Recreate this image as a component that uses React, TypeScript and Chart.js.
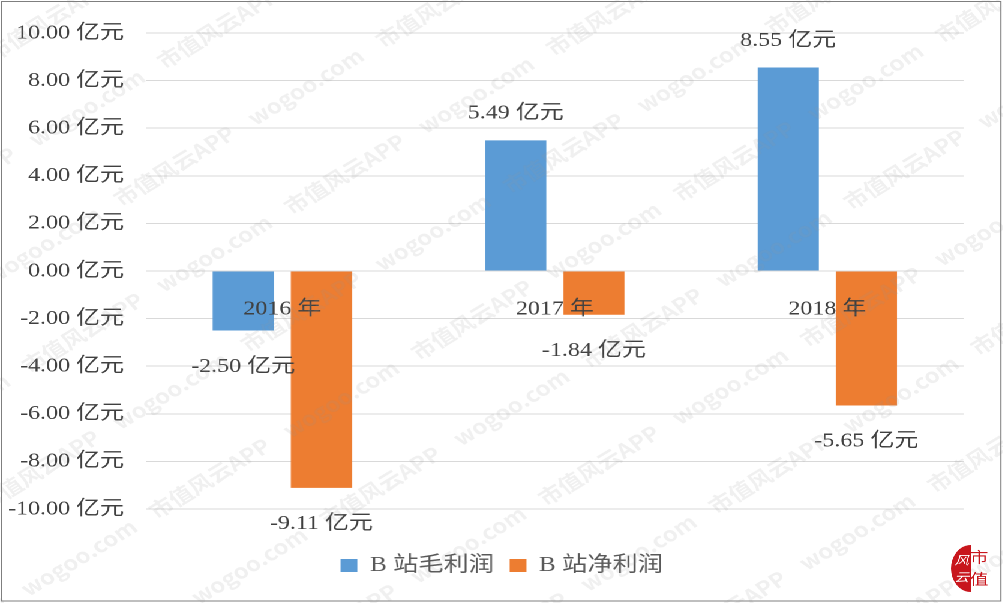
import React, { useEffect, useRef } from 'react';
import { Chart, registerables } from 'chart.js';

Chart.register(...registerables);

const categories = ['2016 年', '2017 年', '2018 年'];
const grossProfit = [-2.5, 5.49, 8.55];
const netProfit = [-9.11, -1.84, -5.65];
const seriesNames = ['B 站毛利润', 'B 站净利润'];
const seriesColors = ['#5B9BD5', '#ED7D31'];
const yMin = -10;
const yMax = 10;
const yStep = 2;
const unit = ' 亿元';
const watermarkText = '市值风云APP    wogoo.com    ';

// the reference image is horizontally stretched; reproduce with a CSS scaleX
const STRETCH = 1.2;
const PAGE_W = 1003;
const PAGE_H = 603;
const CHART_W = PAGE_W / STRETCH;

const FONT = "'Liberation Serif', 'Times New Roman', 'Noto Sans CJK SC', serif";
const TEXT = '#404040';

const dataLabelPlugin = {
  id: 'dataLabels',
  afterDatasetsDraw(chart: any) {
    const ctx = chart.ctx;
    ctx.save();
    ctx.font = `20px ${FONT}`;
    ctx.fillStyle = TEXT;
    ctx.textAlign = 'center';
    ctx.textBaseline = 'middle';
    chart.data.datasets.forEach((ds: any, i: number) => {
      const meta = chart.getDatasetMeta(i);
      meta.data.forEach((el: any, j: number) => {
        const v = ds.data[j] as number;
        const txt = v.toFixed(2) + unit;
        const y = v >= 0 ? el.y - 27 : el.y + 36;
        ctx.fillText(txt, el.x, y);
      });
    });
    ctx.restore();
  },
};

const decorPlugin = {
  id: 'decor',
  afterDraw(chart: any) {
    const ctx = chart.ctx;
    const w = chart.width;
    const h = chart.height;
    // watermark
    ctx.save();
    ctx.fillStyle = 'rgba(150,150,150,0.14)';
    ctx.font = "bold 20px 'Noto Sans CJK SC', 'DejaVu Sans', sans-serif";
    ctx.textBaseline = 'middle';
    ctx.translate(w / 2, h / 2);
    ctx.rotate(-Math.PI / 5);
    const line = watermarkText.repeat(8);
    for (let k = -7; k <= 7; k++) {
      ctx.fillText(line, -900 + (k % 2) * 110, k * 90);
    }
    ctx.restore();
    // logo
    ctx.save();
    ctx.fillStyle = '#C8161D';
    ctx.beginPath();
    ctx.ellipse(808.5, 568.5, 16.5, 23.5, 0, Math.PI / 2, Math.PI * 1.5);
    ctx.closePath();
    ctx.fill();
    ctx.fillStyle = '#ffffff';
    ctx.font = "italic 12px 'Noto Sans CJK SC', sans-serif";
    ctx.textAlign = 'center';
    ctx.textBaseline = 'middle';
    ctx.fillText('风', 801, 560);
    ctx.fillText('云', 801, 577);
    ctx.fillStyle = '#C8161D';
    ctx.font = "15px 'Noto Sans CJK SC', sans-serif";
    ctx.fillText('市', 815.5, 557);
    ctx.fillText('值', 815.5, 579);
    ctx.restore();
    // frame
    ctx.save();
    ctx.strokeStyle = '#7f7f7f';
    ctx.lineWidth = 1;
    ctx.strokeRect(1, 1.5, w - 3.2, h - 3.5);
    ctx.restore();
  },
};

export default function App() {
  const canvasRef = useRef<HTMLCanvasElement | null>(null);

  useEffect(() => {
    if (!canvasRef.current) return;
    const chart = new Chart(canvasRef.current, {
      type: 'bar',
      data: {
        labels: categories,
        datasets: [
          {
            label: seriesNames[0],
            data: grossProfit,
            backgroundColor: seriesColors[0],
            categoryPercentage: 0.574,
            barPercentage: 0.782,
          },
          {
            label: seriesNames[1],
            data: netProfit,
            backgroundColor: seriesColors[1],
            categoryPercentage: 0.574,
            barPercentage: 0.782,
          },
        ],
      },
      options: {
        animation: false,
        responsive: true,
        maintainAspectRatio: false,
        devicePixelRatio: 2,
        layout: { padding: { left: 0, right: 0, top: 33, bottom: 17 } },
        scales: {
          x: {
            type: 'category',
            position: { y: 0 } as any,
            grid: { display: false, drawTicks: false },
            border: { display: false },
            ticks: { color: TEXT, font: { family: FONT, size: 20 }, padding: 26, z: 1 },
          },
          xSpacer: {
            type: 'category',
            position: 'bottom',
            display: true,
            grid: { display: false, drawTicks: false },
            border: { display: false },
            ticks: { display: false },
            afterFit: (s: any) => {
              s.height = 33;
            },
          },
          y: {
            min: yMin,
            max: yMax,
            afterFit: (s: any) => {
              s.width = 146 / STRETCH;
            },
            grid: { color: '#d9d9d9', lineWidth: 1, drawTicks: false },
            border: { display: false },
            ticks: {
              stepSize: yStep,
              color: TEXT,
              font: { family: FONT, size: 20 },
              padding: 18.3,
              callback: (v: any) => Number(v).toFixed(2) + unit,
            },
          },
          ySpacer: {
            type: 'linear',
            position: 'right',
            display: true,
            grid: { display: false, drawTicks: false },
            border: { display: false },
            ticks: { display: false },
            afterFit: (s: any) => {
              s.width = (PAGE_W - 963) / STRETCH;
            },
          },
        },
        plugins: {
          legend: {
            position: 'bottom',
            labels: {
              boxWidth: 14,
              boxHeight: 13,
              color: '#595959',
              font: { family: FONT, size: 21 },
              padding: 13,
            },
          },
          tooltip: { enabled: false },
        },
      },
      plugins: [dataLabelPlugin, decorPlugin],
    });
    return () => chart.destroy();
  }, []);

  return (
    <div
      style={{
        position: 'fixed',
        left: 0,
        top: 0,
        width: CHART_W,
        height: PAGE_H,
        background: '#fff',
        transform: `scaleX(${STRETCH})`,
        transformOrigin: '0 0',
      }}
    >
      <canvas ref={canvasRef} />
    </div>
  );
}
